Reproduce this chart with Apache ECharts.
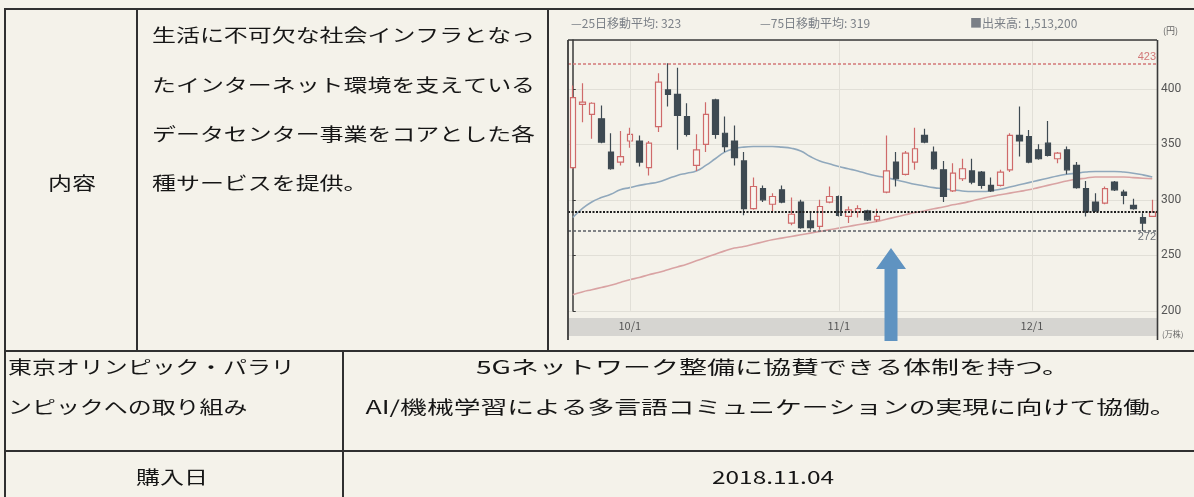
<!DOCTYPE html>
<html><head><meta charset="utf-8">
<script src="https://cdn.jsdelivr.net/npm/echarts@6/dist/echarts.min.js"></script>
<style>html,body{margin:0;padding:0;background:#f4f2ea;}#c{width:1194px;height:497px;}</style>
</head><body><div id="c"></div>
<script>
// ---- data ----
const dates = [
 '2018-09-20','2018-09-21','2018-09-25','2018-09-26','2018-09-27','2018-09-28',
 '2018-10-01','2018-10-02','2018-10-03','2018-10-04','2018-10-05','2018-10-09','2018-10-10','2018-10-11','2018-10-12',
 '2018-10-15','2018-10-16','2018-10-17','2018-10-18','2018-10-19','2018-10-22','2018-10-23','2018-10-24','2018-10-25',
 '2018-10-26','2018-10-29','2018-10-30','2018-10-31',
 '2018-11-01','2018-11-02','2018-11-05','2018-11-06','2018-11-07','2018-11-08','2018-11-09','2018-11-12','2018-11-13',
 '2018-11-14','2018-11-15','2018-11-16','2018-11-19','2018-11-20','2018-11-21','2018-11-22','2018-11-26','2018-11-27',
 '2018-11-28','2018-11-29','2018-11-30',
 '2018-12-03','2018-12-04','2018-12-05','2018-12-06','2018-12-07','2018-12-10','2018-12-11','2018-12-12','2018-12-13',
 '2018-12-14','2018-12-17','2018-12-18','2018-12-19'
];
const opens  = [329,386,377,373,343,334,353,353,329,366,399,395,375,331,350,390,360,353,335,292,310,296,309,279,298,281,276,298,303,285,289,290,282,307,334,323,334,358,343,327,308,319,326,325,313,313,327,358,357,345,351,337,345,331,310,298,297,316,307,295,284,285];
const closes = [392,388,387,352,328,339,359,334,351,406,395,376,359,345,377,359,348,338,292,312,300,303,298,287,275,275,294,303,286,291,292,282,285,326,319,342,346,352,328,303,324,328,316,313,308,325,358,353,334,337,340,342,327,311,289,290,310,309,304,292,279,289];
const lows   = [328,370,355,351,327,331,347,330,322,361,384,345,357,326,343,355,343,331,286,291,298,290,297,277,274,273,273,297,285,279,284,281,280,306,312,322,327,351,327,298,307,317,314,310,307,312,325,339,333,336,339,333,323,310,285,289,296,308,296,291,272,285];
const highs  = [403,405,388,385,360,362,365,358,353,414,423,419,387,359,388,391,375,367,343,320,313,306,313,302,300,290,300,312,304,294,295,291,292,358,343,344,365,364,348,335,333,337,337,326,320,327,360,384,363,350,371,343,348,334,317,306,312,317,309,301,288,300];
const ma25 = [284,292,298,302,305,309,311,313,314.5,316,319,322,324,326,331,337,343,346,347.5,348,348,348,347.5,346.5,344,339,335,332.5,330,328,326,323.5,321.5,320,318,316,314,312.5,311,310,309,308,307.5,307.5,308,309.5,311.5,313.5,315.5,317.5,319.5,321.5,323,324,325,325.5,325.5,325.5,325,324,322.5,320.5];
const ma75 = [214.5,217,219,221,223,225.5,228,230,232.5,234.5,237,239.5,242,245,248,251,254,256.5,258,260,262,264,265.5,267,268.5,270,271.5,273,274.5,276,277.5,279,280.5,282.5,284.5,286.5,288.5,290,292,293.5,295.5,297,299,301,303,304.5,306,307.5,309,311,313,315,317,318.5,319.5,320.5,320.5,320.5,320.5,320,319.5,319];
const refLine = 289;
const monthTickDates = ['2018-10-01','2018-11-01','2018-12-01'];
const monthTickLabels = ['10/1','11/1','12/1'];
const yTickInterval = 50;
const legendTexts = ['—25日移動平均: 323','—75日移動平均: 319','■出来高: 1,513,200'];
const cellTexts = {
  contentHead: '内容',
  contentBody: ['生活に不可欠な社会インフラとなっ','たインターネット環境を支えている','データセンター事業をコアとした各','種サービスを提供。'],
  olyHead: ['東京オリンピック・パラリ','ンピックへの取り組み'],
  olyBody: ['5Gネットワーク整備に協賛できる体制を持つ。','AI/機械学習による多言語コミュニケーションの実現に向けて協働。'],
  dateHead: '購入日',
  dateBody: '2018.11.04'
};

// ---- helpers ----
function datePos(d){
  const t = Date.parse(d);
  for (let i=0;i<dates.length;i++){
    const ti = Date.parse(dates[i]);
    if (ti === t) return i;
    if (ti > t){ const tp = Date.parse(dates[i-1]); return i-1 + (t-tp)/(ti-tp); }
  }
  return dates.length-1;
}
const tickPos = monthTickDates.map(datePos);
const FONT = '"Noto Sans CJK JP", "Noto Sans CJK SC", sans-serif';
const ctx = document.createElement('canvas').getContext('2d');
function measure(txt, size){ ctx.font = size + 'px ' + FONT; return ctx.measureText(txt).width; }

const INK = '#161616';
const LINE = '#303030';
const FS = 18, SX = 1.33;
function txt(text, x, y, align, sx){
  return {type:'text', x:x, y:y, scaleX: sx || SX, z:30,
    style:{text:text, fontSize:FS, fontFamily:FONT, fill:INK, textAlign:align||'left', textVerticalAlign:'middle'}};
}
function fitTxt(text, cx, y, width){
  return txt(text, cx, y, 'center', width / measure(text, FS));
}
function hline(x1,x2,y,w,c){ return {type:'line', z:40, shape:{x1:x1,y1:y,x2:x2,y2:y}, style:{stroke:c||LINE, lineWidth:w||2}}; }
function vline(x,y1,y2,w,c){ return {type:'line', z:40, shape:{x1:x,y1:y1,x2:x,y2:y2}, style:{stroke:c||LINE, lineWidth:w||2}}; }

const graphics = [
  // chart date band & frame
  {type:'rect', z:1, shape:{x:569, y:318, width:588, height:18}, style:{fill:'#d6d5d1'}},
  hline(568,1157,40,1.6,'#3a3a3a'),
  vline(568,40,340,1.8,'#3a3a3a'),
  vline(1157.5,40,340,1.6,'#3a3a3a'),
  // header texts of the stock chart
  {type:'text', x:571, y:23, z:30, style:{text:legendTexts[0], fontSize:12, fontFamily:FONT, fill:'#7a7f86', textVerticalAlign:'middle'}},
  {type:'text', x:760, y:23, z:30, style:{text:legendTexts[1], fontSize:12, fontFamily:FONT, fill:'#7a7f86', textVerticalAlign:'middle'}},
  {type:'text', x:970, y:23, z:30, style:{text:legendTexts[2], fontSize:12, fontFamily:FONT, fill:'#7a7f86', textVerticalAlign:'middle'}},
  {type:'text', x:1163, y:31, z:30, style:{text:'(円)', fontSize:9, fontFamily:FONT, fill:'#666', textVerticalAlign:'middle'}},
  {type:'text', x:1162, y:334, z:30, style:{text:'(万株)', fontSize:8, fontFamily:FONT, fill:'#666', textVerticalAlign:'middle'}},
  // purchase arrow
  {type:'polygon', z:50, shape:{points:[[891,248],[906,269],[897.5,269],[897.5,341],[884.5,341],[884.5,269],[876,269]]}, style:{fill:'#5f93c1'}},
  // table lines
  hline(4,1194,9),
  vline(5,8,497),
  vline(137,9,351),
  vline(548,9,351),
  hline(4,1194,351),
  hline(4,1194,451),
  vline(343,351,497),
  // texts
  txt(cellTexts.contentHead, 72, 183, 'center'),
  txt(cellTexts.contentBody[0], 152, 35),
  txt(cellTexts.contentBody[1], 152, 85),
  txt(cellTexts.contentBody[2], 152, 134),
  txt(cellTexts.contentBody[3], 152, 183),
  txt(cellTexts.olyHead[0], 8, 367),
  txt(cellTexts.olyHead[1], 8, 407),
  fitTxt(cellTexts.olyBody[0], 773, 367, 594),
  fitTxt(cellTexts.olyBody[1], 771, 407, 811),
  txt(cellTexts.dateHead, 172, 477, 'center'),
  fitTxt(cellTexts.dateBody, 773, 477, 122)
];

const chart = echarts.init(document.getElementById('c'), null, {renderer:'canvas'});
chart.setOption({
  backgroundColor:'#f4f2ea',
  animation:false,
  grid:{left:568, top:40, width:589, height:270.8, show:false},
  xAxis:[
    {type:'category', data:dates, boundaryGap:true, show:false},
    {type:'value', min:-0.5, max:dates.length-0.5, position:'bottom', z:5,
     axisLine:{show:false},
     axisTick:{show:false, customValues:tickPos},
     axisLabel:{customValues:tickPos, margin:10, fontSize:11, color:'#555', fontFamily:FONT,
       formatter:function(v){ let b=0; tickPos.forEach((p,i)=>{ if(Math.abs(p-v)<Math.abs(tickPos[b]-v)) b=i; }); return monthTickLabels[b]; }},
     splitLine:{show:true, lineStyle:{color:'#e1dfd7', width:1}}}
  ],
  yAxis:{type:'value', position:'right', min:200, max:444, interval:yTickInterval,
    axisLine:{show:true, lineStyle:{color:'#3a3a3a', width:1.5}},
    axisTick:{show:true, length:3, lineStyle:{color:'#3a3a3a'}},
    axisLabel:{margin:4, fontSize:12, color:'#555', showMaxLabel:false, fontFamily:'Roboto, sans-serif'},
    splitLine:{show:true, lineStyle:{color:'#e1dfd7', width:1}}},
  graphic:graphics,
  series:[
    {type:'line', name:'75日移動平均', data:ma75, smooth:true, symbol:'none', z:2,
     lineStyle:{color:'#d9a3a3', width:1.6}},
    {type:'line', name:'25日移動平均', data:ma25, smooth:true, symbol:'none', z:2,
     lineStyle:{color:'#90a8bc', width:1.6}},
    {type:'candlestick', name:'株価', z:3, barWidth:6,
     data:dates.map((d,i)=>[opens[i],closes[i],lows[i],highs[i]]),
     itemStyle:{color:'#f7f5ef', color0:'#3e4a52', borderColor:'#cf6a6a', borderColor0:'#3e4a52', borderWidth:1.2},
     markLine:{silent:true, symbol:['none','none'], animation:false,
       data:[
         {type:'max', valueDim:'highest', lineStyle:{color:'#d27878', type:[3,2], width:1.5},
          label:{show:true, position:'insideEndTop', formatter:'{c}', color:'#d27878', fontSize:11, distance:1}},
         {type:'min', valueDim:'lowest', lineStyle:{color:'#5a5f66', type:[3,2], width:1.5},
          label:{show:true, position:'insideEndBottom', formatter:'{c}', color:'#6a6f76', fontSize:11, distance:1}},
         {yAxis:refLine, lineStyle:{color:'#1e1e1e', type:[2,1.5], width:2}, label:{show:false}}
       ]}}
  ]
});
</script></body></html>
